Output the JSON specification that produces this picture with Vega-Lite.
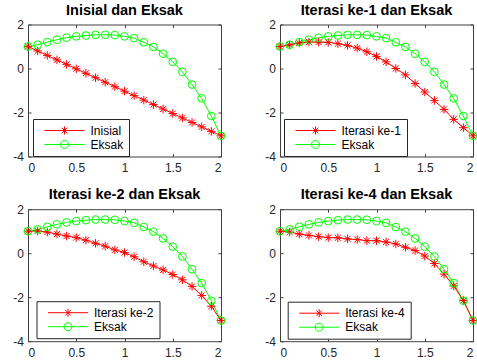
{
  "$schema": "https://vega.github.io/schema/vega-lite/v6.json",
  "background": "white",
  "padding": {"left": 12, "top": 1.5, "right": 4, "bottom": 2},
  "bounds": "flush",
  "columns": 2,
  "spacing": {"column": 59, "row": 52.7},
  "config": {
    "font": "Liberation Sans",
    "view": {"stroke": "#404040", "strokeWidth": 1},
    "axis": {"domain": false, "grid": false, "title": null, "tickColor": "#404040", "tickSize": -3, "labelColor": "#262626", "labelFont": "Liberation Sans", "labelFontSize": 12, "labelExpr": "'' + datum.value"},
    "axisX": {"labelPadding": 9},
    "axisY": {"labelPadding": 7.5},
    "title": {"font": "Liberation Sans", "fontSize": 14.5, "fontWeight": "bold", "color": "black", "offset": 0.5, "anchor": "middle"},
    "legend": {"title": null, "orient": "none", "fillColor": "white", "strokeColor": "#262626", "padding": 5.5, "labelFont": "Liberation Sans", "labelFontSize": 12, "labelColor": "black", "symbolSize": 64, "symbolStrokeWidth": 1, "labelOffset": 40, "rowPadding": 2}
  },
  "datasets": {
    "d": [
      {"s": "Eksak", "x": 0, "y": 1.0}, {"s": "Eksak", "x": 0.1, "y": 1.08}, {"s": "Eksak", "x": 0.2, "y": 1.2}, {"s": "Eksak", "x": 0.3, "y": 1.31}, {"s": "Eksak", "x": 0.4, "y": 1.4}, {"s": "Eksak", "x": 0.5, "y": 1.46}, {"s": "Eksak", "x": 0.6, "y": 1.5}, {"s": "Eksak", "x": 0.7, "y": 1.53}, {"s": "Eksak", "x": 0.8, "y": 1.53}, {"s": "Eksak", "x": 0.9, "y": 1.52}, {"s": "Eksak", "x": 1.0, "y": 1.46}, {"s": "Eksak", "x": 1.1, "y": 1.38}, {"s": "Eksak", "x": 1.2, "y": 1.19}, {"s": "Eksak", "x": 1.3, "y": 0.98}, {"s": "Eksak", "x": 1.4, "y": 0.67}, {"s": "Eksak", "x": 1.5, "y": 0.3}, {"s": "Eksak", "x": 1.6, "y": -0.15}, {"s": "Eksak", "x": 1.7, "y": -0.73}, {"s": "Eksak", "x": 1.8, "y": -1.36}, {"s": "Eksak", "x": 1.9, "y": -2.16}, {"s": "Eksak", "x": 2.0, "y": -3.06},
      {"s": "Inisial", "x": 0, "y": 1.0}, {"s": "Inisial", "x": 0.1, "y": 0.797}, {"s": "Inisial", "x": 0.2, "y": 0.594}, {"s": "Inisial", "x": 0.3, "y": 0.391}, {"s": "Inisial", "x": 0.4, "y": 0.188}, {"s": "Inisial", "x": 0.5, "y": -0.015}, {"s": "Inisial", "x": 0.6, "y": -0.218}, {"s": "Inisial", "x": 0.7, "y": -0.421}, {"s": "Inisial", "x": 0.8, "y": -0.624}, {"s": "Inisial", "x": 0.9, "y": -0.827}, {"s": "Inisial", "x": 1.0, "y": -1.03}, {"s": "Inisial", "x": 1.1, "y": -1.233}, {"s": "Inisial", "x": 1.2, "y": -1.436}, {"s": "Inisial", "x": 1.3, "y": -1.639}, {"s": "Inisial", "x": 1.4, "y": -1.842}, {"s": "Inisial", "x": 1.5, "y": -2.045}, {"s": "Inisial", "x": 1.6, "y": -2.248}, {"s": "Inisial", "x": 1.7, "y": -2.451}, {"s": "Inisial", "x": 1.8, "y": -2.654}, {"s": "Inisial", "x": 1.9, "y": -2.857}, {"s": "Inisial", "x": 2.0, "y": -3.06},
      {"s": "Iterasi ke-1", "x": 0, "y": 1.0}, {"s": "Iterasi ke-1", "x": 0.1, "y": 1.07}, {"s": "Iterasi ke-1", "x": 0.2, "y": 1.16}, {"s": "Iterasi ke-1", "x": 0.3, "y": 1.2}, {"s": "Iterasi ke-1", "x": 0.4, "y": 1.2}, {"s": "Iterasi ke-1", "x": 0.5, "y": 1.19}, {"s": "Iterasi ke-1", "x": 0.6, "y": 1.13}, {"s": "Iterasi ke-1", "x": 0.7, "y": 1.05}, {"s": "Iterasi ke-1", "x": 0.8, "y": 0.93}, {"s": "Iterasi ke-1", "x": 0.9, "y": 0.76}, {"s": "Iterasi ke-1", "x": 1.0, "y": 0.55}, {"s": "Iterasi ke-1", "x": 1.1, "y": 0.3}, {"s": "Iterasi ke-1", "x": 1.2, "y": 0.0}, {"s": "Iterasi ke-1", "x": 1.3, "y": -0.29}, {"s": "Iterasi ke-1", "x": 1.4, "y": -0.68}, {"s": "Iterasi ke-1", "x": 1.5, "y": -1.07}, {"s": "Iterasi ke-1", "x": 1.6, "y": -1.45}, {"s": "Iterasi ke-1", "x": 1.7, "y": -1.86}, {"s": "Iterasi ke-1", "x": 1.8, "y": -2.31}, {"s": "Iterasi ke-1", "x": 1.9, "y": -2.69}, {"s": "Iterasi ke-1", "x": 2.0, "y": -3.06},
      {"s": "Iterasi ke-2", "x": 0, "y": 1.0}, {"s": "Iterasi ke-2", "x": 0.1, "y": 1.01}, {"s": "Iterasi ke-2", "x": 0.2, "y": 0.96}, {"s": "Iterasi ke-2", "x": 0.3, "y": 0.87}, {"s": "Iterasi ke-2", "x": 0.4, "y": 0.78}, {"s": "Iterasi ke-2", "x": 0.5, "y": 0.71}, {"s": "Iterasi ke-2", "x": 0.6, "y": 0.59}, {"s": "Iterasi ke-2", "x": 0.7, "y": 0.45}, {"s": "Iterasi ke-2", "x": 0.8, "y": 0.32}, {"s": "Iterasi ke-2", "x": 0.9, "y": 0.15}, {"s": "Iterasi ke-2", "x": 1.0, "y": 0.03}, {"s": "Iterasi ke-2", "x": 1.1, "y": -0.16}, {"s": "Iterasi ke-2", "x": 1.2, "y": -0.39}, {"s": "Iterasi ke-2", "x": 1.3, "y": -0.58}, {"s": "Iterasi ke-2", "x": 1.4, "y": -0.76}, {"s": "Iterasi ke-2", "x": 1.5, "y": -0.97}, {"s": "Iterasi ke-2", "x": 1.6, "y": -1.21}, {"s": "Iterasi ke-2", "x": 1.7, "y": -1.51}, {"s": "Iterasi ke-2", "x": 1.8, "y": -1.92}, {"s": "Iterasi ke-2", "x": 1.9, "y": -2.41}, {"s": "Iterasi ke-2", "x": 2.0, "y": -3.06},
      {"s": "Iterasi ke-4", "x": 0, "y": 1.0}, {"s": "Iterasi ke-4", "x": 0.1, "y": 0.96}, {"s": "Iterasi ke-4", "x": 0.2, "y": 0.87}, {"s": "Iterasi ke-4", "x": 0.3, "y": 0.81}, {"s": "Iterasi ke-4", "x": 0.4, "y": 0.75}, {"s": "Iterasi ke-4", "x": 0.5, "y": 0.71}, {"s": "Iterasi ke-4", "x": 0.6, "y": 0.7}, {"s": "Iterasi ke-4", "x": 0.7, "y": 0.65}, {"s": "Iterasi ke-4", "x": 0.8, "y": 0.62}, {"s": "Iterasi ke-4", "x": 0.9, "y": 0.57}, {"s": "Iterasi ke-4", "x": 1.0, "y": 0.57}, {"s": "Iterasi ke-4", "x": 1.1, "y": 0.51}, {"s": "Iterasi ke-4", "x": 1.2, "y": 0.42}, {"s": "Iterasi ke-4", "x": 1.3, "y": 0.27}, {"s": "Iterasi ke-4", "x": 1.4, "y": 0.12}, {"s": "Iterasi ke-4", "x": 1.5, "y": -0.13}, {"s": "Iterasi ke-4", "x": 1.6, "y": -0.47}, {"s": "Iterasi ke-4", "x": 1.7, "y": -0.95}, {"s": "Iterasi ke-4", "x": 1.8, "y": -1.49}, {"s": "Iterasi ke-4", "x": 1.9, "y": -2.15}, {"s": "Iterasi ke-4", "x": 2.0, "y": -3.06}
    ]
  },
  "concat": [
    {
      "width": 193, "height": 132,
      "title": "Inisial dan Eksak",
      "data": {"name": "d"},
      "transform": [{"filter": "datum.s === 'Inisial' || datum.s === 'Eksak'"}],
      "layer": [
        {"mark": {"type": "line", "strokeWidth": 1, "clip": false},
         "encoding": {
           "x": {"field": "x", "type": "quantitative", "scale": {"domain": [0, 2], "nice": false}, "axis": {"orient": "bottom", "values": [0, 0.5, 1, 1.5, 2]}},
           "y": {"field": "y", "type": "quantitative", "scale": {"domain": [-4, 2], "nice": false}, "axis": {"orient": "left", "values": [-4, -2, 0, 2]}},
           "color": {"field": "s", "type": "nominal", "scale": {"domain": ["Inisial", "Eksak"], "range": ["#ff0000", "#00ff00"]},
             "legend": {"legendX": 5, "legendY": 94.5, "encode": {"symbols": {"update": {"shape": [{"test": "datum.value === 'Eksak'", "value": "M0,0L10,0M6,0A1,1,0,1,1,4,0A1,1,0,1,1,6,0"}, {"value": "M0,0L10,0M5,-1L5,1M4.3,-0.7L5.7,0.7M4.3,0.7L5.7,-0.7"}], "fill": {"value": "transparent"}, "strokeWidth": {"value": 1}}}}}}
         }},
        {"transform": [{"filter": "datum.s !== 'Eksak'"}],
         "mark": {"type": "point", "filled": false, "opacity": 1, "strokeWidth": 1, "clip": false, "size": 72, "shape": "M-1,0L1,0M0,-1L0,1M-0.71,-0.71L0.71,0.71M-0.71,0.71L0.71,-0.71"},
         "encoding": {
           "x": {"field": "x", "type": "quantitative", "scale": {"domain": [0, 2], "nice": false}, "axis": {"orient": "top", "values": [0, 0.5, 1, 1.5, 2], "labels": false}},
           "y": {"field": "y", "type": "quantitative", "scale": {"domain": [-4, 2], "nice": false}, "axis": {"orient": "right", "values": [-4, -2, 0, 2], "labels": false}},
           "color": {"field": "s", "type": "nominal", "legend": null}
         }},
        {"transform": [{"filter": "datum.s === 'Eksak'"}],
         "mark": {"type": "point", "filled": false, "opacity": 1, "strokeWidth": 1, "clip": false, "size": 60, "shape": "circle"},
         "encoding": {
           "x": {"field": "x", "type": "quantitative", "axis": null},
           "y": {"field": "y", "type": "quantitative", "axis": null},
           "color": {"field": "s", "type": "nominal", "legend": null}
         }}
      ],
      "resolve": {"axis": {"x": "independent", "y": "independent"}}
    },
    {
      "width": 193, "height": 132,
      "title": "Iterasi ke-1 dan Eksak",
      "data": {"name": "d"},
      "transform": [{"filter": "datum.s === 'Iterasi ke-1' || datum.s === 'Eksak'"}],
      "layer": [
        {"mark": {"type": "line", "strokeWidth": 1, "clip": false},
         "encoding": {
           "x": {"field": "x", "type": "quantitative", "scale": {"domain": [0, 2], "nice": false}, "axis": {"orient": "bottom", "values": [0, 0.5, 1, 1.5, 2]}},
           "y": {"field": "y", "type": "quantitative", "scale": {"domain": [-4, 2], "nice": false}, "axis": {"orient": "left", "values": [-4, -2, 0, 2]}},
           "color": {"field": "s", "type": "nominal", "scale": {"domain": ["Iterasi ke-1", "Eksak"], "range": ["#ff0000", "#00ff00"]},
             "legend": {"legendX": 4, "legendY": 94.5, "encode": {"symbols": {"update": {"shape": [{"test": "datum.value === 'Eksak'", "value": "M0,0L10,0M6,0A1,1,0,1,1,4,0A1,1,0,1,1,6,0"}, {"value": "M0,0L10,0M5,-1L5,1M4.3,-0.7L5.7,0.7M4.3,0.7L5.7,-0.7"}], "fill": {"value": "transparent"}, "strokeWidth": {"value": 1}}}}}}
         }},
        {"transform": [{"filter": "datum.s !== 'Eksak'"}],
         "mark": {"type": "point", "filled": false, "opacity": 1, "strokeWidth": 1, "clip": false, "size": 72, "shape": "M-1,0L1,0M0,-1L0,1M-0.71,-0.71L0.71,0.71M-0.71,0.71L0.71,-0.71"},
         "encoding": {
           "x": {"field": "x", "type": "quantitative", "scale": {"domain": [0, 2], "nice": false}, "axis": {"orient": "top", "values": [0, 0.5, 1, 1.5, 2], "labels": false}},
           "y": {"field": "y", "type": "quantitative", "scale": {"domain": [-4, 2], "nice": false}, "axis": {"orient": "right", "values": [-4, -2, 0, 2], "labels": false}},
           "color": {"field": "s", "type": "nominal", "legend": null}
         }},
        {"transform": [{"filter": "datum.s === 'Eksak'"}],
         "mark": {"type": "point", "filled": false, "opacity": 1, "strokeWidth": 1, "clip": false, "size": 60, "shape": "circle"},
         "encoding": {
           "x": {"field": "x", "type": "quantitative", "axis": null},
           "y": {"field": "y", "type": "quantitative", "axis": null},
           "color": {"field": "s", "type": "nominal", "legend": null}
         }}
      ],
      "resolve": {"axis": {"x": "independent", "y": "independent"}}
    },
    {
      "width": 193, "height": 132,
      "title": "Iterasi ke-2 dan Eksak",
      "data": {"name": "d"},
      "transform": [{"filter": "datum.s === 'Iterasi ke-2' || datum.s === 'Eksak'"}],
      "layer": [
        {"mark": {"type": "line", "strokeWidth": 1, "clip": false},
         "encoding": {
           "x": {"field": "x", "type": "quantitative", "scale": {"domain": [0, 2], "nice": false}, "axis": {"orient": "bottom", "values": [0, 0.5, 1, 1.5, 2]}},
           "y": {"field": "y", "type": "quantitative", "scale": {"domain": [-4, 2], "nice": false}, "axis": {"orient": "left", "values": [-4, -2, 0, 2]}},
           "color": {"field": "s", "type": "nominal", "scale": {"domain": ["Iterasi ke-2", "Eksak"], "range": ["#ff0000", "#00ff00"]},
             "legend": {"legendX": 8.5, "legendY": 92, "encode": {"symbols": {"update": {"shape": [{"test": "datum.value === 'Eksak'", "value": "M0,0L10,0M6,0A1,1,0,1,1,4,0A1,1,0,1,1,6,0"}, {"value": "M0,0L10,0M5,-1L5,1M4.3,-0.7L5.7,0.7M4.3,0.7L5.7,-0.7"}], "fill": {"value": "transparent"}, "strokeWidth": {"value": 1}}}}}}
         }},
        {"transform": [{"filter": "datum.s !== 'Eksak'"}],
         "mark": {"type": "point", "filled": false, "opacity": 1, "strokeWidth": 1, "clip": false, "size": 72, "shape": "M-1,0L1,0M0,-1L0,1M-0.71,-0.71L0.71,0.71M-0.71,0.71L0.71,-0.71"},
         "encoding": {
           "x": {"field": "x", "type": "quantitative", "scale": {"domain": [0, 2], "nice": false}, "axis": {"orient": "top", "values": [0, 0.5, 1, 1.5, 2], "labels": false}},
           "y": {"field": "y", "type": "quantitative", "scale": {"domain": [-4, 2], "nice": false}, "axis": {"orient": "right", "values": [-4, -2, 0, 2], "labels": false}},
           "color": {"field": "s", "type": "nominal", "legend": null}
         }},
        {"transform": [{"filter": "datum.s === 'Eksak'"}],
         "mark": {"type": "point", "filled": false, "opacity": 1, "strokeWidth": 1, "clip": false, "size": 60, "shape": "circle"},
         "encoding": {
           "x": {"field": "x", "type": "quantitative", "axis": null},
           "y": {"field": "y", "type": "quantitative", "axis": null},
           "color": {"field": "s", "type": "nominal", "legend": null}
         }}
      ],
      "resolve": {"axis": {"x": "independent", "y": "independent"}}
    },
    {
      "width": 193, "height": 132,
      "title": "Iterasi ke-4 dan Eksak",
      "data": {"name": "d"},
      "transform": [{"filter": "datum.s === 'Iterasi ke-4' || datum.s === 'Eksak'"}],
      "layer": [
        {"mark": {"type": "line", "strokeWidth": 1, "clip": false},
         "encoding": {
           "x": {"field": "x", "type": "quantitative", "scale": {"domain": [0, 2], "nice": false}, "axis": {"orient": "bottom", "values": [0, 0.5, 1, 1.5, 2]}},
           "y": {"field": "y", "type": "quantitative", "scale": {"domain": [-4, 2], "nice": false}, "axis": {"orient": "left", "values": [-4, -2, 0, 2]}},
           "color": {"field": "s", "type": "nominal", "scale": {"domain": ["Iterasi ke-4", "Eksak"], "range": ["#ff0000", "#00ff00"]},
             "legend": {"legendX": 7.7, "legendY": 92.5, "encode": {"symbols": {"update": {"shape": [{"test": "datum.value === 'Eksak'", "value": "M0,0L10,0M6,0A1,1,0,1,1,4,0A1,1,0,1,1,6,0"}, {"value": "M0,0L10,0M5,-1L5,1M4.3,-0.7L5.7,0.7M4.3,0.7L5.7,-0.7"}], "fill": {"value": "transparent"}, "strokeWidth": {"value": 1}}}}}}
         }},
        {"transform": [{"filter": "datum.s !== 'Eksak'"}],
         "mark": {"type": "point", "filled": false, "opacity": 1, "strokeWidth": 1, "clip": false, "size": 72, "shape": "M-1,0L1,0M0,-1L0,1M-0.71,-0.71L0.71,0.71M-0.71,0.71L0.71,-0.71"},
         "encoding": {
           "x": {"field": "x", "type": "quantitative", "scale": {"domain": [0, 2], "nice": false}, "axis": {"orient": "top", "values": [0, 0.5, 1, 1.5, 2], "labels": false}},
           "y": {"field": "y", "type": "quantitative", "scale": {"domain": [-4, 2], "nice": false}, "axis": {"orient": "right", "values": [-4, -2, 0, 2], "labels": false}},
           "color": {"field": "s", "type": "nominal", "legend": null}
         }},
        {"transform": [{"filter": "datum.s === 'Eksak'"}],
         "mark": {"type": "point", "filled": false, "opacity": 1, "strokeWidth": 1, "clip": false, "size": 60, "shape": "circle"},
         "encoding": {
           "x": {"field": "x", "type": "quantitative", "axis": null},
           "y": {"field": "y", "type": "quantitative", "axis": null},
           "color": {"field": "s", "type": "nominal", "legend": null}
         }}
      ],
      "resolve": {"axis": {"x": "independent", "y": "independent"}}
    }
  ],
  "resolve": {"scale": {"color": "independent"}, "legend": {"color": "independent"}}
}
